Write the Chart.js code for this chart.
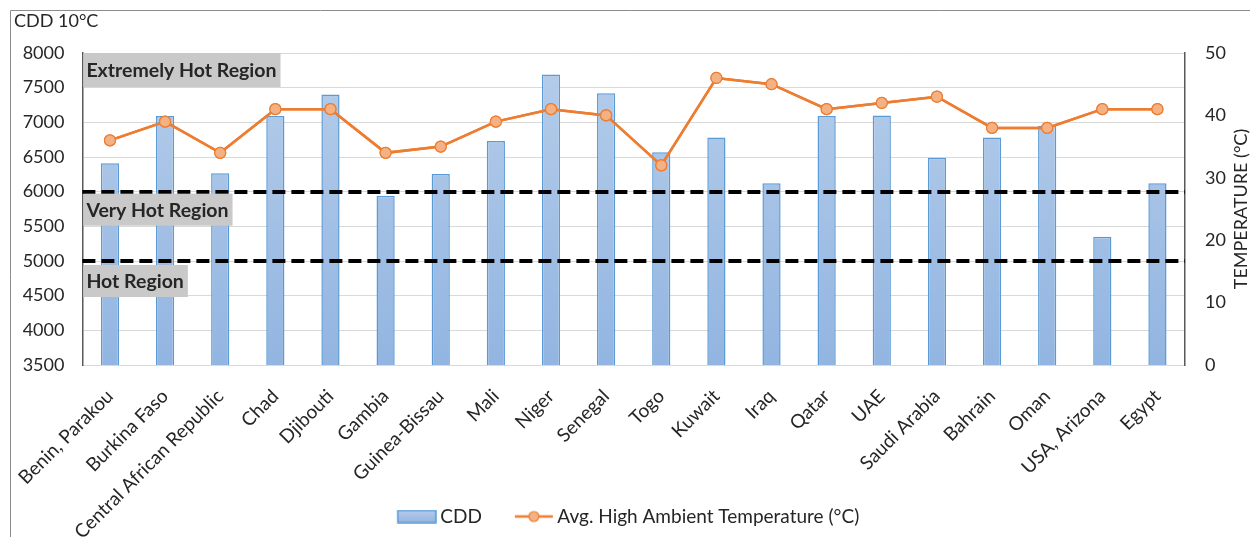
<!DOCTYPE html>
<html>
<head>
<meta charset="utf-8">
<script src="https://cdn.jsdelivr.net/npm/chart.js@4"></script>
<style>
html,body{margin:0;padding:0;background:#fff;}
#wrap{width:1250px;height:537px;position:relative;}
</style>
</head>
<body>
<div id="wrap"><canvas id="c" width="1250" height="537"></canvas></div>
<script>
const categories = ["Benin, Parakou","Burkina Faso","Central African Republic","Chad","Djibouti","Gambia","Guinea-Bissau","Mali","Niger","Senegal","Togo","Kuwait","Iraq","Qatar","UAE","Saudi Arabia","Bahrain","Oman","USA, Arizona","Egypt"];
const cddValues = [6410,7090,6265,7090,7400,5940,6255,6730,7690,7420,6570,6780,6120,7090,7100,6490,6780,6950,5350,6120];
const tempValues = [36,39,34,41,41,34,35,39,41,40,32,46,45,41,42,43,38,38,41,41];
const cddTicks = {min:3500, max:8000, step:500};
const tempTicks = {min:0, max:50, step:10};
const thresholds = [6000, 5000];
const regionLabels = ["Extremely Hot Region","Very Hot Region","Hot Region"];
const leftTitle = "CDD 10°C";
const rightTitle = "TEMPERATURE (°C)";
const seriesNames = ["CDD","Avg. High Ambient Temperature (°C)"];

const FONT = "Lato, 'Open Sans', sans-serif";
const TXT = "#262626";

function barGradient(ctx, area){
  const g = ctx.createLinearGradient(0, area.top, 0, area.bottom);
  g.addColorStop(0, "#b6cdea");
  g.addColorStop(1, "#92b5e1");
  return g;
}

function makeBarSample(){
  const c = document.createElement('canvas'); c.width = 52; c.height = 14;
  const x = c.getContext('2d');
  const g = x.createLinearGradient(0,0,0,14); g.addColorStop(0,"#b6cdea"); g.addColorStop(1,"#92b5e1");
  x.fillStyle = g; x.fillRect(13,1,38,12);
  x.strokeStyle = "#5b9bd5"; x.lineWidth = 1.5; x.strokeRect(13,1,38,12);
  return c;
}
function makeLineSample(){
  const c = document.createElement('canvas'); c.width = 52; c.height = 14;
  const x = c.getContext('2d');
  x.strokeStyle = "#ed7d31"; x.lineWidth = 2.5;
  x.beginPath(); x.moveTo(13,7); x.lineTo(51,7); x.stroke();
  x.beginPath(); x.arc(32,7,5,0,Math.PI*2); x.fillStyle="#f4b183"; x.fill();
  x.lineWidth = 1.2; x.stroke();
  return c;
}
const barSample = makeBarSample();
const lineSample = makeLineSample();

const overlayPlugin = {
  id: 'overlay',
  afterLayout(chart){
    chart.scales.x.bottom = chart.height;
  },
  beforeDraw(chart){
    const ctx = chart.ctx;
    ctx.save();
    ctx.strokeStyle = "#8c8c8c"; ctx.lineWidth = 1;
    ctx.beginPath(); ctx.moveTo(10.5, 600); ctx.lineTo(10.5, 10.5); ctx.lineTo(1300, 10.5); ctx.stroke();
    ctx.fillStyle = TXT; ctx.font = "18px " + FONT; ctx.textBaseline = "middle"; ctx.textAlign = "left";
    ctx.fillText(leftTitle, 14, 21);
    const a = chart.chartArea;
    ctx.translate(1241, (a.top + a.bottom) / 2);
    ctx.rotate(-Math.PI / 2);
    ctx.textAlign = "center";
    ctx.fillText(rightTitle, 0, 0);
    ctx.restore();
  },
  afterDatasetsDraw(chart){
    const ctx = chart.ctx, area = chart.chartArea, y = chart.scales.y;
    ctx.save();
    ctx.strokeStyle = "#000"; ctx.lineWidth = 4; ctx.setLineDash([13,6]);
    thresholds.forEach(v => {
      const py = Math.round(y.getPixelForValue(v));
      ctx.beginPath(); ctx.moveTo(area.left, py); ctx.lineTo(area.right, py); ctx.stroke();
    });
    ctx.setLineDash([]);
    ctx.font = "bold 19.5px " + FONT; ctx.textBaseline = "middle"; ctx.textAlign = "left";
    const tops = [area.top, y.getPixelForValue(thresholds[0]) + 2, y.getPixelForValue(thresholds[1]) + 4];
    regionLabels.forEach((t,i) => {
      const w = ctx.measureText(t).width;
      const h = i===0 ? 34 : 32;
      ctx.fillStyle = "#c9c9c9";
      ctx.fillRect(area.left + 1, tops[i], w + 7, h);
      ctx.fillStyle = TXT;
      ctx.fillText(t, area.left + 4, tops[i] + h/2 + 1);
    });
    ctx.restore();
    chart.getDatasetMeta(1).controller.draw();
  }
};

const chart = new Chart(document.getElementById('c'), {
  data: {
    labels: categories,
    datasets: [
      {
        type: 'bar', label: seriesNames[0], data: cddValues, yAxisID: 'y', order: 2,
        backgroundColor: (c) => { const a = c.chart.chartArea; return a ? barGradient(c.chart.ctx, a) : "#a4c2e6"; },
        borderColor: "#5b9bd5", borderWidth: 1.5,
        barPercentage: 0.33, categoryPercentage: 1.0
      },
      {
        type: 'line', label: seriesNames[1], data: tempValues, yAxisID: 'y1', order: 1,
        borderColor: "#ed7d31", borderWidth: 2.5, backgroundColor: "#f4b183",
        pointRadius: 5.5, pointBackgroundColor: "#f4b183", pointBorderColor: "#ed7d31", pointBorderWidth: 1.2,
        tension: 0
      }
    ]
  },
  options: {
    responsive: false, animation: false, devicePixelRatio: 1,
    layout: { padding: { top: 53, left: 0, right: 0, bottom: 1 } },
    plugins: {
      tooltip: { enabled: false },
      legend: {
        position: 'bottom',
        labels: {
          font: { size: 19, family: FONT }, color: TXT, usePointStyle: true, pointStyleWidth: 40, boxHeight: 14, padding: 26,
          generateLabels(chart){
            return [
              { text: seriesNames[0], pointStyle: barSample, datasetIndex: 0, fontColor: TXT, hidden: false, lineWidth: 0 },
              { text: seriesNames[1], pointStyle: lineSample, datasetIndex: 1, fontColor: TXT, hidden: false, lineWidth: 0 }
            ];
          }
        }
      }
    },
    scales: {
      x: {
        grid: { display: false, drawTicks: false },
        border: { display: true, color: "#d9d9d9", width: 1 },
        ticks: { font: { size: 19, family: FONT }, color: TXT, minRotation: 45, maxRotation: 45, autoSkip: false, padding: 20 },
        afterFit(s){ s.height = s.chart.height - 365 - 1 - (s.chart.legend ? s.chart.legend.height : 0); }
      },
      y: {
        position: 'left', min: cddTicks.min, max: cddTicks.max,
        ticks: { stepSize: cddTicks.step, font: { size: 18, family: FONT }, color: TXT, padding: 18, callback: v => String(v) },
        grid: { color: "#d9d9d9", lineWidth: 1, drawTicks: false },
        border: { display: true, color: "#595959", width: 1.5 },
        afterFit(s){ s.width = 81; }
      },
      y1: {
        position: 'right', min: tempTicks.min, max: tempTicks.max,
        ticks: { stepSize: tempTicks.step, font: { size: 18, family: FONT }, color: TXT, padding: 20, callback: v => String(v) },
        grid: { display: false, drawTicks: false },
        border: { display: true, color: "#595959", width: 1.5 },
        afterFit(s){ s.width = 65; }
      }
    }
  },
  plugins: [overlayPlugin]
});
</script>
</body>
</html>
